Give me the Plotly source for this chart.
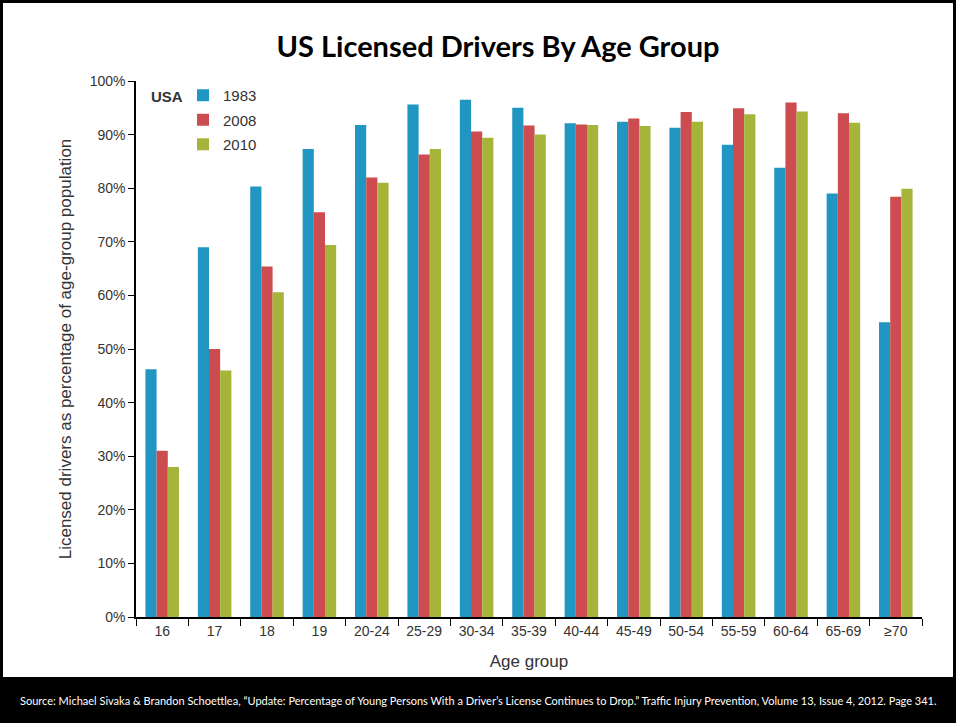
import plotly.graph_objects as go

age_groups = ["16", "17", "18", "19", "20-24", "25-29", "30-34", "35-39", "40-44",
              "45-49", "50-54", "55-59", "60-64", "65-69", "≥70"]
pct_1983 = [46.2, 69.0, 80.3, 87.3, 91.8, 95.6, 96.5, 95.0, 92.1, 92.4, 91.3, 88.1, 83.8, 79.0, 55.0]
pct_2008 = [31.0, 50.0, 65.4, 75.5, 82.0, 86.3, 90.6, 91.7, 91.9, 93.0, 94.2, 94.9, 96.0, 94.0, 78.4]
pct_2010 = [28.0, 46.0, 60.6, 69.4, 81.0, 87.3, 89.4, 90.0, 91.8, 91.6, 92.4, 93.8, 94.3, 92.2, 79.9]
series_names = ["1983", "2008", "2010"]
series_colors = ["#2196c3", "#cc4c50", "#a6b43a"]
y_tick_vals = [0, 10, 20, 30, 40, 50, 60, 70, 80, 90, 100]
y_tick_text = ["0%", "10%", "20%", "30%", "40%", "50%", "60%", "70%", "80%", "90%", "100%"]

W, H = 956, 723
L, R, T, B = 136, 922, 81, 617  # plot area in pixels


def px(x):
    return (x - L) / (R - L)


def py(y):
    return (B - y) / (B - T)


fig = go.Figure()
for name, vals, col in zip(series_names, [pct_1983, pct_2008, pct_2010], series_colors):
    fig.add_trace(go.Bar(x=age_groups, y=vals, name=name, marker_color=col,
                         marker_line_width=0, legendgroup=name))

sans = "Liberation Sans, Arial, sans-serif"
tick_font = dict(family=sans, size=14, color="#333333")

fig.update_layout(
    width=W, height=H,
    margin=dict(l=L, r=W - R, t=T, b=H - B),
    paper_bgcolor="white", plot_bgcolor="white",
    barmode="group", bargap=0.36, bargroupgap=0,
    showlegend=True,
    legend=dict(x=px(183), y=py(79), xanchor="left", yanchor="top",
                font=dict(family=sans, size=15, color="#333333"),
                traceorder="grouped", tracegroupgap=2, itemwidth=30,
                bgcolor="rgba(0,0,0,0)"),
    title=dict(text="<b>US Licensed Drivers By Age Group</b>", x=498 / W, xanchor="center",
               y=1 - 47 / H, yanchor="middle",
               font=dict(family="Lato, Open Sans, sans-serif", size=29, color="black")),
    xaxis=dict(showgrid=False, showline=True, linecolor="black", linewidth=1.5,
               ticks="outside", tickson="boundaries", ticklen=7, tickcolor="black",
               tickfont=tick_font,
               title=dict(text="Age group", standoff=18,
                          font=dict(family=sans, size=17, color="#333333"))),
    yaxis=dict(range=[0, 100], showgrid=False, zeroline=False, showline=True,
               linecolor="black", linewidth=1.5, ticks="outside", ticklen=6, tickcolor="black",
               tickmode="array", tickvals=y_tick_vals, ticktext=y_tick_text, tickfont=tick_font,
               title=dict(text="Licensed drivers as percentage of age-group population", standoff=14,
                          font=dict(family=sans, size=17, color="#333333"))),
)

fig.add_annotation(text="<b>USA</b>", xref="paper", yref="paper", x=px(149), y=py(97),
                   xanchor="left", yanchor="middle", showarrow=False,
                   font=dict(family=sans, size=15, color="#333333"))

# page frame: black borders and footer band
shapes = [
    dict(x0=px(0), x1=px(W), y0=py(0), y1=py(3)),
    dict(x0=px(0), x1=px(3), y0=py(0), y1=py(H)),
    dict(x0=px(W - 3), x1=px(W), y0=py(0), y1=py(H)),
    dict(x0=px(0), x1=px(W), y0=py(677), y1=py(H)),
]
for s in shapes:
    fig.add_shape(type="rect", xref="paper", yref="paper", fillcolor="black",
                  line_width=0, layer="above", **s)

fig.add_annotation(
    text="Source: Michael Sivaka & Brandon Schoettlea, “Update: Percentage of Young Persons With a Driver’s License Continues to Drop.” Traffic Injury Prevention, Volume 13, Issue 4, 2012. Page 341.",
    xref="paper", yref="paper", x=px(W / 2), y=py(700), xanchor="center", yanchor="middle",
    showarrow=False, font=dict(family="Lato, sans-serif", size=11, color="white"))

fig.write_html("out.html", config={"displayModeBar": False},
               post_script="document.body.style.margin='0';")
